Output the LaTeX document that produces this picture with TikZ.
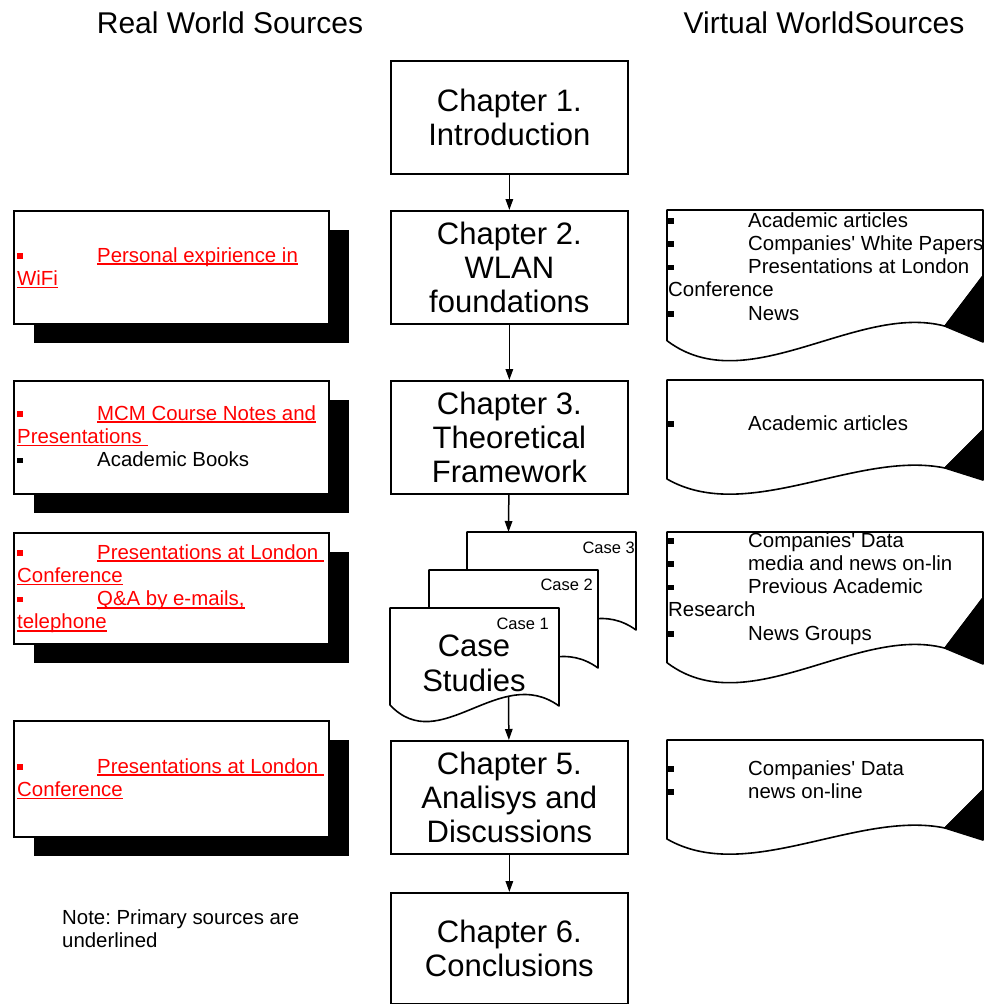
\documentclass[tikz,border=0pt]{standalone}
\usepackage{fontspec}
\setmainfont{Liberation Sans}
\newfontfamily\apfont{Liberation Sans}
\usetikzlibrary{arrows.meta,shadows}
\frenchspacing

% square bullet followed by the indent of the list text
\newcommand\bul{\makebox[80pt][l]{\raisebox{3.5pt}{\rule{5.5pt}{5.5pt}}}}
% underline at a fixed depth below the baseline
\newcommand\undl[1]{\setbox0=\hbox{#1}\rlap{\rule[-3pt]{\wd0}{1.6pt}}\box0}
% lines stacked at the baseline of the first one
\newcommand\stack[1]{\begin{tabular}[t]{@{}l@{}}#1\end{tabular}}
% straight apostrophe
\newcommand\apos{{\apfont'}}

\begin{document}
\begin{tikzpicture}[x=1pt,y=-1pt,
  chapbox/.style={draw, line width=1.7pt, fill=white, inner sep=0pt, anchor=north west,
    minimum width=237pt, minimum height=113pt, align=center,
    font=\fontsize{31}{34}\selectfont},
  srcbox/.style={draw, line width=1.7pt, fill=white, anchor=north west, inner sep=0pt,
    minimum width=315pt,
    drop shadow={shadow xshift=20pt, shadow yshift=-19pt, fill=black, opacity=1}},
  small/.style={font=\fontsize{20.4}{23.3}\selectfont, inner sep=0pt, anchor=base west},
  caselabel/.style={font=\fontsize{16.5}{19}\selectfont, inner sep=0pt, anchor=base east},
  heading/.style={font=\fontsize{30}{34}\selectfont, inner sep=0pt, anchor=base},
  flow/.style={line width=1.5pt, -{Triangle[width=7.5pt,length=11pt]}},
  vdoc/.pic={
    \draw[line width=1.6pt, fill=white, line join=round]
      (0,99) -- (0,0) -- (316,0) -- (316,50) -- (278,88)
      .. controls (190,70) and (80,145) .. (0,99) -- cycle;
    \draw[line width=1.6pt, fill=black, line join=round]
      (316,50) -- (278,88) -- (316,100) -- cycle;
  },
  casedoc/.pic={
    \draw[line width=1.6pt, fill=white, line join=round]
      (0,97) -- (0,0) -- (169,0) -- (169,98)
      .. controls (110,55) and (50,150) .. (0,97) -- cycle;
  }
]
\useasboundingbox (0,0) rectangle (989,1004);

% column headings
\node[heading] (hreal) at (230,33) {Real World Sources};
\node[heading] (hvirt) at (824,33) {Virtual WorldSources};

% chapter boxes
\node[chapbox] (c1) at (390,60)  {Chapter 1.\\Introduction};
\node[chapbox] (c2) at (390,210) {Chapter 2.\\WLAN\\foundations};
\node[chapbox] (c3) at (390,380) {Chapter 3.\\Theoretical\\Framework};
\node[chapbox] (c5) at (390,740) {Chapter 5.\\Analisys and\\Discussions};
\node[chapbox, minimum height=111pt] (c6) at (390,892) {Chapter 6.\\Conclusions};

% stacked case study sheets
\pic at (467,532) {casedoc};
\pic at (429,570) {casedoc};
\pic at (390,608) {casedoc};
\node[caselabel] (k3) at (635,553) {Case 3};
\node[caselabel] (k2) at (593,590) {Case 2};
\node[caselabel] (k1) at (549,629) {Case 1};
\node[align=center, inner sep=0pt, font=\fontsize{31}{35}\selectfont] (cs) at (474,663) {Case\\Studies};
\coordinate (case3top) at (508.5,532);
\coordinate (case1out) at (508.5,696);

% real world sources
\node[srcbox, minimum height=113pt] (la) at (13,210) {};
\node[srcbox, minimum height=113pt] (lb) at (13,380) {};
\node[srcbox, minimum height=111pt] (lc) at (13,532) {};
\node[srcbox, minimum height=116pt] (ld) at (13,720) {};

\node[small, text=red] (ta) at (17,262) {\stack{\bul\undl{Personal expirience in}\\\undl{WiFi}}};
\node[small, text=red] (tb) at (17,420) {\stack{\bul\undl{MCM Course Notes and}\\\undl{Presentations\ }\\{\color{black}\bul Academic Books}}};
\node[small, text=red] (tc) at (17,559) {\stack{\bul\undl{Presentations at London\ }\\\undl{Conference}\\\bul\undl{Q\&A by e-mails,}\\\undl{telephone}}};
\node[small, text=red] (td) at (17,773) {\stack{\bul\undl{Presentations at London\ }\\\undl{Conference}}};

% virtual world sources
\pic[yscale=1.32] at (667,210) {vdoc};
\pic at (667,380) {vdoc};
\pic[yscale=1.32] at (667,532) {vdoc};
\pic at (667,740) {vdoc};

\node[small] (ra) at (668,227) {\stack{\bul Academic articles\\\bul Companies\apos{} White Papers\\\bul Presentations at London\\Conference\\\bul News}};
\node[small] (rb) at (668,430) {\stack{\bul Academic articles}};
\node[small] (rc) at (668,547) {\stack{\bul Companies\apos{} Data\\\bul media and news on-lin\\\bul Previous Academic\\Research\\\bul News Groups}};
\node[small] (rd) at (668,775) {\stack{\bul Companies\apos{} Data\\\bul news on-line}};

% note
\node[small] (note) at (62,924) {\stack{Note: Primary sources are\\underlined}};

% flow between chapters
\draw[flow] (c1) -- (c2);
\draw[flow] (c2) -- (c3);
\draw[flow] (c3) -- (case3top);
\draw[flow] (case1out) -- (c5);
\draw[flow] (c5) -- (c6);
\end{tikzpicture}
\end{document}
